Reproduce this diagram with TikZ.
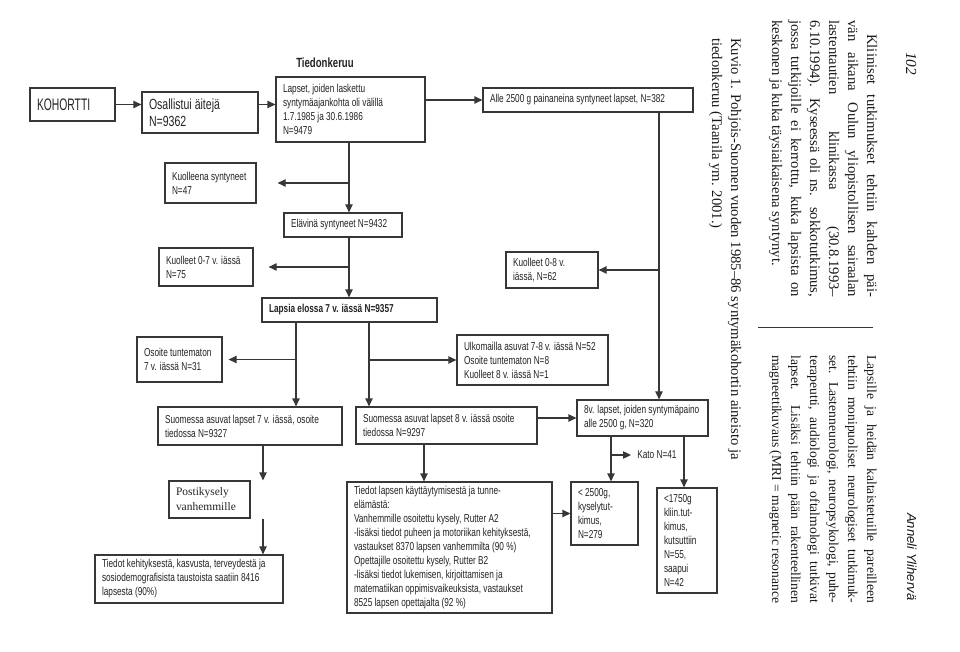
\documentclass[tikz,border=0pt]{standalone}
\usepackage{fontspec}
\setmainfont{Liberation Serif}
\newfontfamily\condf[FakeStretch=0.72]{Liberation Sans}
\newfontfamily\kohf[FakeStretch=0.62]{Liberation Sans}
\newfontfamily\sansf{Liberation Sans}
\usetikzlibrary{arrows.meta}
\definecolor{lc}{RGB}{55,55,55}
\definecolor{tc}{RGB}{35,35,35}
\definecolor{pc}{RGB}{25,25,25}
\newdimen\unitpx \unitpx=0.75pt
\tikzset{
  boxshape/.style={draw=lc, line width=0.9pt, inner sep=0pt, rectangle},
  boxtext/.style={anchor=west, inner sep=0pt, align=left, text=tc, font=\condf\fontsize{8.6}{10.5}\selectfont},
  arr/.style={draw=lc, line width=0.9pt, -{Triangle[length=6pt,width=5.5pt]}},
  rtext/.style={rotate=-90, anchor=base west, inner sep=0pt, text=pc, font=\fontsize{11}{13}\selectfont},
  rsmall/.style={font=\fontsize{10.2}{13}\selectfont},
}
\newcommand\mybox[7][]{%
  \node[boxshape, minimum width={(#5-#3)*0.75pt}, minimum height={(#6-#4)*0.75pt}] (#2) at ({(#3+#5)/2},{(#4+#6)/2}) {};
  \node[boxtext, #1] (#2t) at ([xshift=5.5pt]#2.west) {#7};
}
\newcommand\rline[5][]{\node[rtext,#1] at (#2,#3) {\makebox[#4\unitpx][s]{#5}};}
\begin{document}
\begin{tikzpicture}[x=0.75pt,y=-0.75pt]
\fill[white] (0,0) rectangle (960,652);
\useasboundingbox (0,0) rectangle (960,652);

% ---- boxes ----
\mybox[font=\kohf\fontsize{12.5}{14}\selectfont]{koh}{30}{88}{115}{121}{KOHORTTI}
\mybox[font=\condf\fontsize{11}{13}\selectfont]{osa}{142}{92}{258}{133}{Osallistui äitejä\\N=9362}
\mybox{lap}{276}{77}{425}{142}{Lapset, joiden laskettu\\syntymäajankohta oli välillä\\1.7.1985 ja 30.6.1986\\N=9479}
\node[text=tc, font=\condf\bfseries\fontsize{10}{12}\selectfont] (title) at (325,63) {Tiedonkeruu};
\mybox{alle}{483}{88}{693}{112}{Alle 2500 g painaneina syntyneet lapset, N=382}
\mybox{kuol}{165}{163}{256}{203}{Kuolleena syntyneet\\N=47}
\mybox{elav}{284}{213}{402}{237}{Elävinä syntyneet N=9432}
\mybox{k07}{159}{248}{253}{286}{Kuolleet 0-7 v. iässä\\N=75}
\mybox[font=\condf\bfseries\fontsize{8.6}{10.5}\selectfont]{lapsia}{262}{298}{437}{322}{Lapsia elossa 7 v. iässä N=9357}
\mybox{os7}{137}{337}{222}{382}{Osoite tuntematon\\7 v. iässä N=31}
\mybox{ulk}{457}{335}{608}{385}{Ulkomailla asuvat 7-8 v. iässä N=52\\Osoite tuntematon N=8\\Kuolleet 8 v. iässä N=1}
\mybox{s7}{158}{407}{342}{445}{Suomessa asuvat lapset 7 v. iässä, osoite\\tiedossa N=9327}
\mybox{s8}{356}{407}{537}{444}{Suomessa asuvat lapset 8 v. iässä osoite\\tiedossa N=9297}
\mybox{k08}{506}{252}{598}{288}{Kuolleet 0-8 v.\\iässä, N=62}
\mybox{v8}{577}{400}{708}{436}{8v. lapset, joiden syntymäpaino\\alle 2500 g, N=320}
\mybox[font=\fontsize{8.6}{11.25}\selectfont]{post}{169}{481}{250}{518}{Postikysely\\vanhemmille}
\mybox{tk}{95}{555}{283}{603}{Tiedot kehityksestä, kasvusta, terveydestä ja\\sosiodemografisista taustoista saatiin 8416\\lapsesta (90\%)}
\mybox{tl}{347}{482}{552}{613}{Tiedot lapsen käyttäytymisestä ja tunne-\\elämästä:\\Vanhemmille osoitettu kysely, Rutter A2\\-lisäksi tiedot puheen ja motoriikan kehityksestä,\\vastaukset 8370 lapsen vanhemmilta (90 \%)\\Opettajille osoitettu kysely, Rutter B2\\-lisäksi tiedot lukemisen, kirjoittamisen ja\\matematiikan oppimisvaikeuksista, vastaukset\\8525 lapsen opettajalta (92 \%)}
\mybox{lta}{571}{482}{638}{545}{< 2500g,\\kyselytut-\\kimus,\\N=279}
\mybox{ltb}{657}{488}{717}{593}{<1750g\\kliin.tut-\\kimus,\\kutsuttiin\\N=55,\\saapui\\N=42}
\node[anchor=west, inner xsep=4.5pt, inner ysep=0pt, text=tc, font=\condf\fontsize{8.6}{10.5}\selectfont] (kato) at (631,455) {Kato N=41};

% ---- connectors ----
\coordinate (c1) at (349,0);
\coordinate (c2) at (296,0);
\coordinate (c3) at (369,0);
\coordinate (c4) at (659,0);
\coordinate (c5) at (611,0);
\coordinate (c6) at (684,0);
\coordinate (c7) at (263,0);
\coordinate (c8) at (424,0);
\draw[arr] (koh.east) -- (koh.east -| osa.west);
\draw[arr] (osa.east |- koh.east) -- (koh.east -| lap.west);
\draw[arr] (lap.east |- alle.west) -- (alle.west);
\draw[arr] (lap.south -| c1) -- (elav.north -| c1);
\draw[arr, shorten >=15.75pt] (kuol.east -| c1) -- (kuol.east);
\draw[arr] (elav.south -| c1) -- (lapsia.north -| c1);
\draw[arr, shorten >=11.25pt] (k07.east -| c1) -- (k07.east);
\draw[arr] (lapsia.south -| c2) -- (s7.north -| c2);
\draw[arr] (lapsia.south -| c3) -- (s8.north -| c3);
\draw[arr, shorten >=4.5pt] (os7.east -| c2) -- (os7.east);
\draw[arr] (ulk.west -| c3) -- (ulk.west);
\draw[arr] (alle.south -| c4) -- (v8.north -| c4);
\draw[arr] (k08.east -| c4) -- (k08.east);
\draw[arr] (s8.east |- v8.west) -- (v8.west);
\draw[arr] (v8.south -| c5) -- (lta.north -| c5);
\draw[arr] (v8.south -| c6) -- (ltb.north -| c6);
\draw[arr] (kato.west -| c5) -- (kato.west);
\draw[arr] (tl.east |- lta.west) -- (lta.west);
\draw[arr] (s7.south -| c7) -- (post.north -| c7);
\draw[arr] (post.south -| c7) -- (tk.north -| c7);
\draw[arr] (s8.south -| c8) -- (tl.north -| c8);

% ---- rotated page text ----
\node[rtext, font=\itshape\fontsize{11.5}{13}\selectfont] (pnum) at (906,52) {102};
\node[rtext, font=\sansf\itshape\fontsize{9.8}{12}\selectfont] (auth) at (907,513) {Anneli Ylihervä};
\rline{867}{34}{263}{Kliiniset tutkimukset tehtiin kahden päi-}
\rline{848}{20}{277}{vän aikana Oulun yliopistollisen sairaalan}
\rline{829}{20}{277}{lastentautien klinikassa (30.8.1993–}
\rline{810}{20}{277}{6.10.1994). Kyseessä oli ns. sokkotutkimus,}
\rline{791}{20}{277}{jossa tutkijoille ei kerrottu, kuka lapsista on}
\node[rtext] (p1l) at (772,20) {keskonen ja kuka täysiaikaisena syntynyt.};
\node[rtext] (cap1) at (731,38) {Kuvio 1. Pohjois-Suomen vuoden 1985–86 syntymäkohortin aineisto ja};
\node[rtext] (cap2) at (712,38) {tiedonkeruu (Taanila ym. 2001.)};
\draw[lc, line width=0.7pt] (758,327) -- (873,327);
\rline[rsmall]{867}{355}{248}{Lapsille ja heidän kaltaistetuille pareilleen}
\rline[rsmall]{848}{355}{248}{tehtiin monipuoliset neurologiset tutkimuk-}
\rline[rsmall]{829}{355}{248}{set. Lastenneurologi, neuropsykologi, puhe-}
\rline[rsmall]{810}{355}{248}{terapeutti, audiologi ja oftalmologi tutkivat}
\rline[rsmall]{791}{355}{248}{lapset. Lisäksi tehtiin pään rakenteellinen}
\rline[rsmall]{772}{355}{248}{magneettikuvaus (MRI = magnetic resonance}
\end{tikzpicture}
\end{document}
